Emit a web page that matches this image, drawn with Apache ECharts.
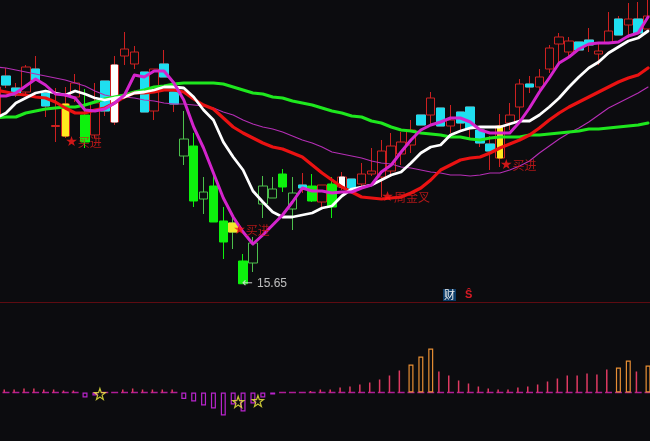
<!DOCTYPE html>
<html><head><meta charset="utf-8">
<style>html,body{margin:0;padding:0;background:#0c0c0f;overflow:hidden}#c{width:650px;height:441px}</style>
<script src="https://cdn.jsdelivr.net/npm/echarts@6/dist/echarts.min.js"></script>
</head><body><div id="c"></div>
<script>
// [open, close, low, high] from session -1 (clipped at the left edge) to session 65
const candles = [
[22.32,23.52,22.32,23.52],
[23.96,23.60,23.48,24.28],[23.48,23.20,23.12,23.68],[23.32,24.32,23.16,24.40],[24.24,23.80,23.80,24.76],[23.28,22.76,22.32,23.28],
[21.94,21.98,21.32,23.48],[21.56,22.84,21.48,23.52],[23.12,23.68,22.92,24.04],[22.40,21.32,21.08,23.44],[21.60,22.88,21.48,23.68],
[23.76,22.56,22.36,23.76],[22.12,24.40,22.00,24.76],[24.76,25.04,24.40,25.72],[24.44,24.92,24.24,25.16],[24.12,22.52,22.52,24.12],
[22.56,24.24,22.20,24.24],[24.44,23.92,23.92,25.00],[23.32,22.84,22.52,23.32],[21.44,20.76,20.40,22.56],[21.16,18.96,18.72,21.68],
[19.32,19.04,18.44,19.92],[19.56,18.12,18.12,20.08],[18.16,17.32,16.64,18.72],[18.08,17.72,17.04,18.40],[16.56,15.65,15.65,16.84],
[17.28,16.48,16.12,17.52],[19.56,18.84,18.28,19.96],[19.44,19.08,19.08,19.92],[20.04,19.52,19.32,20.24],[19.28,18.64,17.80,19.92],
[19.60,19.48,19.28,20.08],[19.56,18.96,18.92,20.04],[18.92,19.60,18.72,19.60],[19.64,18.72,18.28,19.92],[19.52,19.92,19.40,20.12],
[19.84,19.44,19.44,19.84],[19.64,20.04,19.48,20.48],[20.04,20.16,19.96,21.08],[19.92,20.96,19.12,21.40],[20.16,21.16,19.92,21.68],
[20.84,21.32,20.40,21.72],[21.20,21.80,20.88,22.20],[22.40,22.00,22.00,22.40],[22.40,23.08,22.00,23.32],[22.68,21.96,21.96,22.68],
[21.96,22.20,21.68,22.80],[22.52,22.08,21.72,22.52],[22.72,21.88,21.48,22.72],[21.80,21.28,21.12,21.80],[21.24,20.96,20.20,21.56],
[20.68,21.96,20.32,22.44],[22.08,22.40,21.80,22.88],[22.72,23.64,22.20,23.84],[23.64,23.52,23.28,23.96],[23.52,23.92,23.28,24.24],
[24.24,25.08,24.08,25.20],[25.24,25.52,24.52,25.68],[24.92,25.36,24.72,25.52],[25.32,25.00,25.00,25.32],[25.40,25.20,24.92,25.88],
[24.84,24.96,24.40,25.32],[25.28,25.76,25.28,26.52],[26.24,25.60,25.60,26.36],[26.00,26.24,25.48,26.88],[26.24,25.68,25.68,26.92],
[25.84,26.36,25.84,27.00]];
// R red hollow, C cyan, G green filled, g green hollow, Y yellow, W white, J yellow on a green wick
const kinds = "RCCRCCRYRGRCWRRCRCCgGgGGJGgggGgCGRGWCRRRRRRCRCRCCCCYRRCRRRRCCRRCRCR".split("");
const ma5 = [23.16,23.16,23.28,23.56,23.84,23.60,23.24,23.20,23.08,22.60,22.56,22.64,22.88,23.20,24.00,23.92,24.16,24.16,23.68,23.00,21.92,21.08,20.08,19.08,18.32,17.72,17.24,17.60,18.00,18.40,18.92,19.48,19.36,19.36,19.28,19.32,19.32,19.48,19.60,20.12,20.40,20.92,21.40,21.80,22.00,22.12,22.28,22.28,22.12,21.80,21.68,21.68,21.68,22.12,22.68,23.32,23.88,24.48,24.72,25.04,25.24,25.28,25.28,25.32,25.56,25.68,26.32];
const ma10 = [22.28,22.48,22.88,23.08,23.28,23.36,23.28,23.20,23.36,23.24,23.08,23.00,23.08,23.12,23.28,23.32,23.40,23.52,23.52,23.48,23.12,22.60,22.20,21.32,20.72,20.20,19.36,18.92,18.52,18.32,18.32,18.40,18.48,18.68,18.76,19.16,19.44,19.52,19.60,19.80,20.00,20.12,20.48,20.88,21.12,21.20,21.60,21.76,21.88,21.92,21.92,21.92,22.04,22.16,22.16,22.40,22.72,23.08,23.52,23.92,24.28,24.52,24.88,25.12,25.36,25.48,25.76];
const ma20 = [23.40,23.32,23.24,23.20,23.12,23.08,22.92,22.68,22.48,22.48,22.60,22.68,22.88,23.12,23.28,23.28,23.32,23.40,23.40,23.32,23.04,22.80,22.64,22.28,21.92,21.68,21.48,21.28,21.12,21.04,20.88,20.72,20.40,20.08,19.80,19.52,19.32,19.12,19.08,19.04,19.08,19.12,19.28,19.48,19.80,20.20,20.40,20.60,20.68,20.72,20.88,21.08,21.24,21.40,21.60,21.88,22.20,22.48,22.72,22.92,23.12,23.32,23.52,23.72,23.88,24.00,24.28];
const ma30 = [24.32,24.28,24.20,24.12,24.04,23.96,23.88,23.80,23.68,23.56,23.36,23.20,23.12,23.12,23.08,23.00,22.96,22.88,22.84,22.84,22.80,22.76,22.68,22.52,22.40,22.20,22.04,21.92,21.84,21.72,21.56,21.40,21.28,21.12,20.92,20.84,20.76,20.68,20.56,20.48,20.44,20.32,20.28,20.20,20.12,20.08,20.00,20.00,19.96,20.00,20.08,20.08,20.20,20.36,20.56,20.88,21.16,21.44,21.68,21.88,22.12,22.40,22.68,22.88,23.08,23.28,23.52];
const ma60 = [22.28,22.32,22.32,22.48,22.56,22.64,22.68,22.72,22.72,22.80,22.92,23.04,23.12,23.20,23.32,23.40,23.52,23.56,23.64,23.68,23.68,23.68,23.68,23.64,23.52,23.40,23.28,23.24,23.12,23.08,22.96,22.88,22.80,22.68,22.56,22.48,22.36,22.32,22.16,22.08,21.92,21.80,21.76,21.68,21.64,21.60,21.52,21.52,21.44,21.40,21.48,21.52,21.52,21.52,21.60,21.60,21.64,21.68,21.72,21.76,21.84,21.84,21.88,21.92,21.96,22.00,22.08];
const macd = [0.03,0.03,0.03,0.04,0.04,0.03,0.03,0.02,0.02,-0.05,-0.03,0,0,0.03,0.04,0.03,0.03,0.03,0.03,-0.065,-0.09,-0.13,-0.16,-0.23,-0.12,-0.19,-0.11,-0.05,-0.02,0,0,0,0.015,0.03,0.03,0.05,0.06,0.08,0.10,0.13,0.17,0.22,0.28,0.36,0.44,0.21,0.17,0.12,0.09,0.06,0.04,0.03,0.03,0.05,0.06,0.08,0.11,0.14,0.17,0.17,0.19,0.18,0.23,0.25,0.32,0.21,0.27];
const signalIndex = [7, 24, 39, 51];
const signalPrice = [21.32, 17.80, 19.12, 20.40];
const signalText = ["买进", "买进", "周金叉", "买进"];
const lowIndex = 25, lowPrice = 15.65, lowText = "15.65";
const starIndex = [10, 24, 26];
const starValue = [-0.015, -0.095, -0.085];

const BG='#0c0c0f', RED='#cc2020', CYAN='#1fdff0', GREEN='#0df20d', GREEN2='#4cc04c';
const cats = candles.map((_, i) => String(i));
const solid = c => ({color:c,color0:c,borderColor:c,borderColor0:c,borderWidth:1});
const hollow = c => ({color:BG,color0:BG,borderColor:c,borderColor0:c,borderWidth:1});
const baseStyle = {R:hollow(RED),C:hollow(RED),Y:hollow(RED),W:hollow(RED),G:solid(GREEN),g:hollow(GREEN2),J:hollow(GREEN2)};
const baseCandles = candles.map((v,i)=>({value:v,itemStyle:baseStyle[kinds[i]]}));
const bodyOnly = (v,c)=>{const lo=Math.min(v[0],v[1]),hi=Math.max(v[0],v[1]);return {value:[v[0],v[1],lo,hi],itemStyle:solid(c)};};
const fullOverlay = candles.map((v,i)=>kinds[i]==='C'?bodyOnly(v,CYAN):kinds[i]==='J'?bodyOnly(v,'#f2e82a'):'-');
const narrowOverlay = candles.map((v,i)=>kinds[i]==='Y'?bodyOnly(v,'#ffe81e'):kinds[i]==='W'?bodyOnly(v,'#ffffff'):'-');
const line = (name,data,color,width,z)=>({name,type:'line',data,xAxisIndex:0,yAxisIndex:0,symbol:'none',z,lineStyle:{color,width,cap:'round',join:'round'},silent:true});
const starPath='path://M50 2 L62 38 L98 38 L69 60 L80 96 L50 74 L20 96 L31 60 L2 38 L38 38 Z';
const cn='"Noto Sans CJK SC","Liberation Sans",sans-serif';

const chart=echarts.init(document.getElementById('c'),null,{renderer:'canvas'});
chart.setOption({
 animation:false,backgroundColor:BG,
 grid:[{left:-8.82,top:0,width:661.8,height:302,outerBoundsMode:'none',containLabel:false},{left:-8.82,top:303,width:661.8,height:138,outerBoundsMode:'none',containLabel:false}],
 xAxis:[
  {type:'category',gridIndex:0,data:cats,boundaryGap:true,axisLabel:{show:false},axisTick:{show:false},splitLine:{show:false},axisLine:{show:true,onZero:false,lineStyle:{color:'#5e0c12',width:1}}},
  {type:'category',gridIndex:1,data:cats,boundaryGap:true,show:false}],
 yAxis:[
  {type:'value',gridIndex:0,min:14.92,max:27,show:false,scale:true},
  {type:'value',gridIndex:1,min:-0.485,max:0.895,show:false}],
 series:[
  {name:'K',type:'candlestick',data:baseCandles,barWidth:9,z:2,silent:true},
  {name:'KFill',type:'candlestick',data:fullOverlay,barWidth:9,z:3,silent:true},
  {name:'KSignal',type:'candlestick',data:narrowOverlay,barWidth:6,z:3,silent:true},
  line('MA30',ma30,'#b52eb5',1.1,4),
  line('MA60',ma60,'#1ee81e',3,5),
  line('MA20',ma20,'#ea1212',3.2,6),
  line('MA10',ma10,'#ffffff',2.8,7),
  line('MA5',ma5,'#d424cc',3,8),
  {name:'signals',type:'scatter',xAxisIndex:0,yAxisIndex:0,symbolSize:0,z:9,silent:true,
   data:signalIndex.map((x,k)=>({value:[x,signalPrice[k]],label:{show:true,position:'right',distance:0,formatter:'{s|★}{t|'+signalText[k]+'}',rich:{s:{fontFamily:'"DejaVu Sans"',fontSize:14,color:'#ff1a1a'},t:{fontFamily:cn,fontSize:12,color:'#d81a1a'}}}}))},
  {name:'low',type:'scatter',xAxisIndex:0,yAxisIndex:0,symbolSize:0,z:9,silent:true,
   data:[{value:[lowIndex,lowPrice],label:{show:true,position:'right',distance:-1,formatter:'{a|←}{b|'+lowText+'}',rich:{a:{fontFamily:'"DejaVu Sans"',fontSize:13,color:'#e8e8e8',padding:[0,4,0,0]},b:{fontFamily:'"Liberation Sans"',fontSize:12,color:'#e8e8e8'}}}}]},
  {name:'zero',type:'scatter',xAxisIndex:1,yAxisIndex:1,symbol:'rect',symbolSize:[7,1.5],z:2,silent:true,itemStyle:{color:'#d820b8'},
   data:macd.map((v,i)=>v>=0?[i,0]:'-')},
  {name:'stem',type:'bar',xAxisIndex:1,yAxisIndex:1,barWidth:1.5,barGap:'-100%',z:3,silent:true,itemStyle:{color:'#e03a62'},
   data:macd.map(v=>v>0&&v<0.25?v:'-')},
  {name:'up',type:'bar',xAxisIndex:1,yAxisIndex:1,barWidth:5,barGap:'-100%',z:3,silent:true,itemStyle:{color:'rgba(0,0,0,0)',borderColor:'#e88f34',borderWidth:1.2},
   data:macd.map(v=>v>=0.25?v:'-')},
  {name:'down',type:'bar',xAxisIndex:1,yAxisIndex:1,barWidth:5,barGap:'-100%',z:3,silent:true,itemStyle:{color:'rgba(0,0,0,0)',borderColor:'#b824cc',borderWidth:1.2},
   data:macd.map(v=>v<0?v:'-')},
  {name:'stars',type:'scatter',xAxisIndex:1,yAxisIndex:1,symbol:starPath,symbolSize:11,symbolOffset:[5,0],z:6,silent:true,
   itemStyle:{color:'rgba(0,0,0,0)',borderColor:'#f4f040',borderWidth:1.2},
   data:starIndex.map((x,k)=>[x,starValue[k]])}
 ],
 graphic:[
  {type:'rect',left:443,top:289,shape:{width:13,height:12},style:{fill:'#0b3a66'},silent:true},
  {type:'text',left:444,top:289,style:{text:'财',fill:'#f0f0f0',font:'11px "Noto Sans CJK SC"'},silent:true},
  {type:'text',left:465,top:289,style:{text:'Ŝ',fill:'#d81a24',font:'bold 11px "Liberation Sans"'},silent:true}
 ]
});
</script></body></html>
